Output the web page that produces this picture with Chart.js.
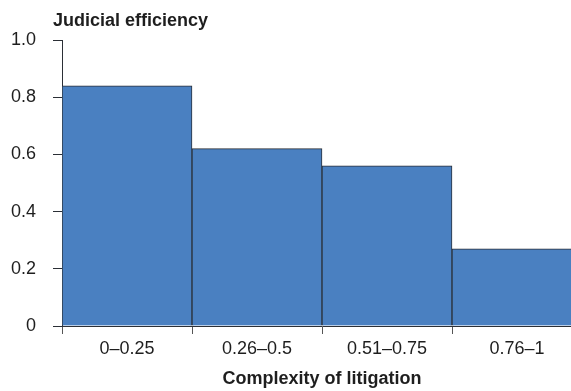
<!DOCTYPE html>
<html>
<head>
<meta charset="utf-8">
<script src="https://cdn.jsdelivr.net/npm/chart.js@4.4.1/dist/chart.umd.min.js"></script>
<style>
  html, body { margin: 0; padding: 0; overflow: hidden; background: #fff; }
  #wrap { width: 582px; height: 391px; }
</style>
</head>
<body>
<div id="wrap"><canvas id="efficiencyChart" width="582" height="391"></canvas></div>
<script>
// 소송 복잡도 구간별 사법 효율성
const complexityBands = ['0–0.25', '0.26–0.5', '0.51–0.75', '0.76–1'];
const efficiencyValues = [0.84, 0.62, 0.56, 0.27];
const yTickValues = [0, 0.2, 0.4, 0.6, 0.8, 1.0];

const yAxisTitle = 'Judicial efficiency';
const xAxisTitle = 'Complexity of litigation';

const FONT = '"Liberation Sans", Arial, Helvetica, sans-serif';
const INK = '#1e1e1e';

// 세로축 제목은 축 위쪽에 가로로 그림
const yTitlePlugin = {
    id: 'yTitle',
    afterDraw(chart) {
        const ctx = chart.ctx;
        ctx.save();
        ctx.font = 'bold 18px ' + FONT;
        ctx.fillStyle = INK;
        ctx.textBaseline = 'alphabetic';
        ctx.textAlign = 'left';
        ctx.fillText(yAxisTitle, 53, 26);
        ctx.restore();
    }
};

const ctx = document.getElementById('efficiencyChart');
new Chart(ctx, {
    type: 'bar',
    data: {
        labels: complexityBands,
        datasets: [{
            data: efficiencyValues,
            backgroundColor: '#4a80c1',
            borderColor: '#2b2f36',
            borderWidth: 1,
            categoryPercentage: 1,
            barPercentage: 1
        }]
    },
    options: {
        responsive: false,
        animation: false,
        layout: { padding: { top: 40, right: 0, bottom: 0, left: 0 } },
        plugins: {
            legend: { display: false },
            tooltip: { enabled: false }
        },
        scales: {
            x: {
                offset: true,
                grid: {
                    offset: true,
                    drawOnChartArea: false,
                    drawTicks: true,
                    tickLength: 8,
                    color: '#555'
                },
                border: { display: true, color: '#2b2f36', width: 1 },
                ticks: {
                    color: INK,
                    padding: 4,
                    font: { family: FONT, size: 18 }
                },
                title: {
                    display: true,
                    text: xAxisTitle,
                    color: INK,
                    font: { family: FONT, size: 18, weight: 'bold' },
                    padding: { top: 8, bottom: 1 }
                },
                afterFit(scale) { scale.height = 65; }
            },
            y: {
                min: 0,
                max: 1,
                afterBuildTicks(scale) {
                    scale.ticks = yTickValues.map(v => ({ value: v }));
                },
                grid: {
                    drawOnChartArea: false,
                    drawTicks: true,
                    tickLength: 9,
                    color: '#2b2f36'
                },
                border: { display: true, color: '#2b2f36', width: 1 },
                ticks: {
                    color: INK,
                    padding: 17,
                    font: { family: FONT, size: 18 },
                    callback: (value) => value === 0 ? '0' : value.toFixed(1)
                },
                afterFit(scale) { scale.width = 62; }
            }
        }
    },
    plugins: [yTitlePlugin]
});
</script>
</body>
</html>
